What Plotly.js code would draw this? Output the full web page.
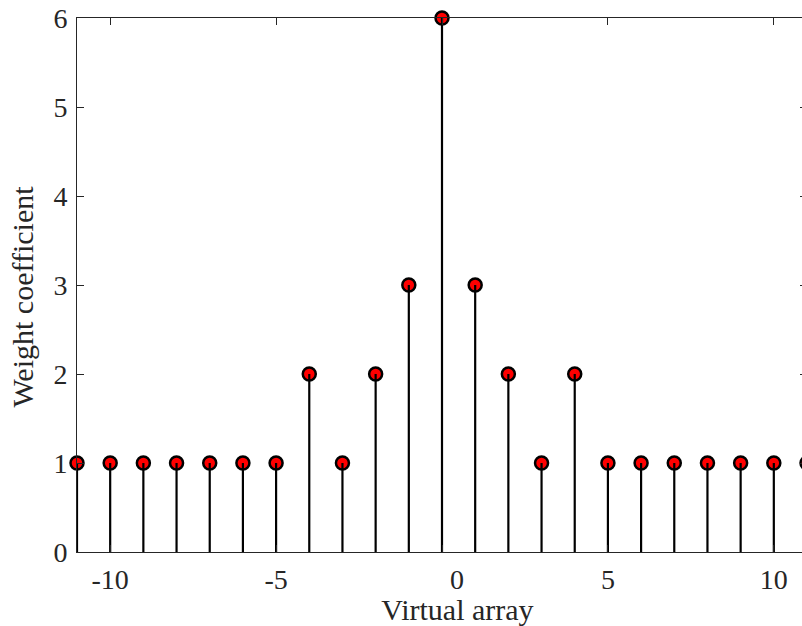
<!DOCTYPE html>
<html>
<head>
<meta charset="utf-8">
<script src="https://cdn.plot.ly/plotly-3.0.1.min.js"></script>
<style>
html, body { margin: 0; padding: 0; overflow: hidden; background: #fff; }
#chart { width: 810px; height: 626px; }
</style>
</head>
<body>
<div id="chart"></div>
<script>
// Data
const positions = [-11, -10, -9, -8, -7, -6, -5, -4, -3, -2, -1, 0, 1, 2, 3, 4, 5, 6, 7, 8, 9, 10, 11];
const weights   = [1, 1, 1, 1, 1, 1, 1, 2, 1, 2, 3, 6, 3, 2, 1, 2, 1, 1, 1, 1, 1, 1, 1];
const xTickVals = [-10, -5, 0, 5, 10];
const xLabelVals = [-10, -5, 0.45, 5, 10];
const xTickText = ['-10', '-5', '0', '5', '10'];
const yTickVals = [0, 1, 2, 3, 4, 5, 6];

const FONT = "'Liberation Serif', 'Times New Roman', serif";
const TXT = '#262626';

// stems built from the data arrays
const stemX = [], stemY = [];
positions.forEach((p, i) => { stemX.push(p, p, null); stemY.push(0, weights[i], null); });

const traces = [
  {
    type: 'scatter', mode: 'markers', x: positions, y: weights,
    marker: { size: 13, color: '#ff0000', line: { color: '#000000', width: 2.5 } },
    cliponaxis: false, hoverinfo: 'x+y', showlegend: false
  },
  {
    type: 'scatter', mode: 'lines', x: stemX, y: stemY,
    line: { color: '#000000', width: 2.2 },
    cliponaxis: false, hoverinfo: 'skip', showlegend: false
  },
  // invisible anchors so the label-only axes are drawn
  { type: 'scatter', mode: 'markers', x: [0], y: [3], xaxis: 'x2', yaxis: 'y',
    marker: { opacity: 0 }, hoverinfo: 'skip', showlegend: false },
  { type: 'scatter', mode: 'markers', x: [0], y: [0.5], xaxis: 'x', yaxis: 'y2',
    marker: { opacity: 0 }, hoverinfo: 'skip', showlegend: false }
];

const layout = {
  width: 810, height: 626,
  margin: { l: 77, r: 3, t: 18, b: 74 },
  paper_bgcolor: '#ffffff', plot_bgcolor: 'rgba(0,0,0,0)',
  showlegend: false,
  font: { family: FONT, color: TXT, size: 28 },
  xaxis: {
    range: [-11, 11], tickvals: xTickVals, showticklabels: false,
    ticks: 'inside', ticklen: 7, tickwidth: 1, tickcolor: TXT,
    showline: true, linecolor: TXT, linewidth: 1, mirror: 'ticks',
    showgrid: false, zeroline: false, fixedrange: true
  },
  xaxis2: {
    anchor: 'y', domain: [0.0424, 1], range: [-10.066, 11],
    tickvals: xLabelVals, ticktext: xTickText, ticks: '',
    showline: false, showgrid: false, zeroline: false,
    tickfont: { family: FONT, size: 28, color: TXT },
    ticklabelstandoff: 8,
    title: { text: 'Virtual array', font: { family: FONT, size: 30, color: TXT }, standoff: 0 }
  },
  yaxis: {
    range: [0, 6], tickvals: yTickVals,
    ticks: 'inside', ticklen: 7, tickwidth: 1, tickcolor: TXT,
    showline: true, linecolor: TXT, linewidth: 1, mirror: 'ticks',
    showgrid: false, zeroline: false, fixedrange: true,
    tickfont: { family: FONT, size: 28, color: TXT },
    ticklabelstandoff: 3
  },
  yaxis2: {
    anchor: 'x', domain: [0, 0.955], range: [0, 1],
    showticklabels: false, ticks: '', showline: false, showgrid: false, zeroline: false,
    title: { text: 'Weight coefficient', font: { family: FONT, size: 30, color: TXT }, standoff: 33 }
  }
};

Plotly.newPlot('chart', traces, layout, { displayModeBar: false, staticPlot: true });
</script>
</body>
</html>
